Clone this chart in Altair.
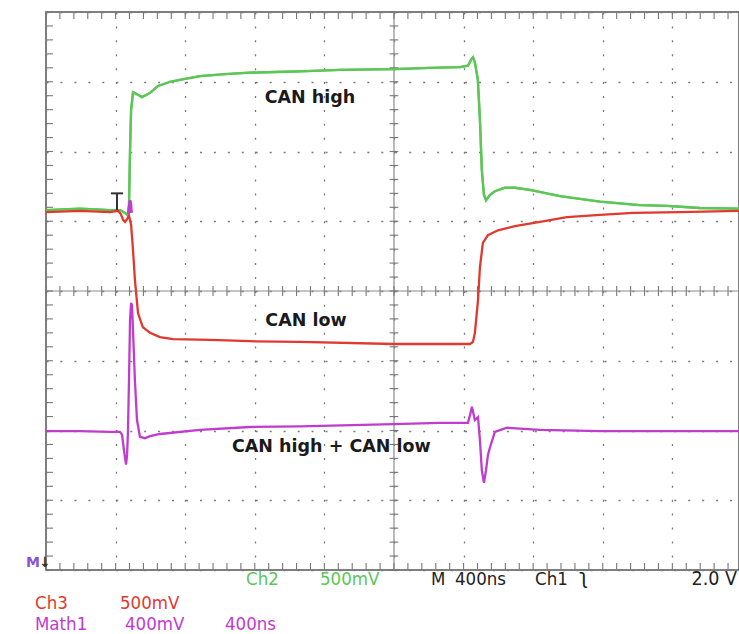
import altair as alt
import pandas as pd
import numpy as np

# Time in ns (400 ns / division), vertical position in screen divisions
can_high_t = [0, 195, 368, 425, 454, 471, 477, 483, 489, 500, 523, 552, 598, 644, 713, 799, 885,
              1029, 1172, 1316, 1460, 1690, 2000, 2207, 2379, 2425, 2442, 2454, 2465, 2482, 2494,
              2505, 2517, 2529, 2552, 2580, 2638, 2695, 2781, 2954, 3184, 3413, 3569, 3759, 3983]
can_high_v = [1.16, 1.18, 1.16, 1.16, 1.12, 1.08, 1.23, 2.02, 2.59, 2.85, 2.82, 2.78, 2.84, 2.94,
              3.00, 3.04, 3.08, 3.11, 3.13, 3.14, 3.15, 3.17, 3.18, 3.20, 3.21, 3.23, 3.31, 3.35,
              3.28, 3.03, 2.45, 1.73, 1.38, 1.30, 1.38, 1.43, 1.48, 1.48, 1.45, 1.36, 1.28, 1.23,
              1.22, 1.19, 1.18]

can_low_t = [0, 195, 368, 414, 431, 443, 454, 466, 477, 489, 500, 511, 529, 557, 598, 655, 730,
             943, 1172, 1460, 2000, 2264, 2437, 2454, 2465, 2483, 2494, 2511, 2540, 2598, 2695,
             2839, 2994, 3184, 3374, 3644, 3983]
can_low_v = [1.13, 1.15, 1.13, 1.15, 1.10, 1.02, 0.99, 1.03, 1.08, 0.95, 0.59, 0.16, -0.32,
             -0.52, -0.60, -0.66, -0.69, -0.70, -0.72, -0.73, -0.76, -0.76, -0.76, -0.73, -0.60,
             -0.13, 0.34, 0.69, 0.80, 0.87, 0.93, 0.99, 1.06, 1.09, 1.12, 1.13, 1.15]

math_t = [0, 195, 368, 425, 437, 448, 460, 466, 471, 477, 483, 489, 494, 500, 511, 523, 540,
          569, 598, 655, 885, 1172, 1460, 2000, 2264, 2425, 2437, 2448, 2465, 2483, 2494, 2505,
          2517, 2529, 2540, 2552, 2580, 2649, 2839, 3184, 3983]
math_v = [-2.01, -2.01, -2.02, -2.02, -2.06, -2.28, -2.49, -2.35, -2.02, -1.28, -0.42, -0.17,
          -0.20, -0.56, -1.28, -1.85, -2.09, -2.11, -2.08, -2.05, -1.99, -1.95, -1.94, -1.91,
          -1.89, -1.89, -1.78, -1.66, -1.85, -1.81, -2.14, -2.57, -2.75, -2.57, -2.35, -2.24,
          -2.02, -1.96, -1.99, -2.01, -2.01]

glitch_t = [474, 479, 483, 487, 491]
glitch_v = [1.10, 1.22, 1.30, 1.24, 1.12]

trace_labels = ["CAN high", "CAN low", "CAN high + CAN low"]
trace_label_t = [1517, 1494, 1640]
trace_label_v = [2.77, -0.43, -2.24]

trigger_t = 408
trigger_level = 1.16

GREEN = "#5cc656"
RED = "#e0392f"
MAGENTA = "#c03ccf"

X_MAX = 3983
grid_t = [0, 400, 800, 1200, 1600, 2000, 2400, 2800, 3200, 3600]
grid_v = [-4, -3, -2, -1, 0, 1, 2, 3, 4]
minor_t = np.arange(0, X_MAX + 1, 80)
minor_v = np.round(np.arange(-4, 4.001, 0.2), 3)

xs = alt.Scale(domain=[0, X_MAX], nice=False, zero=False)
ys = alt.Scale(domain=[-4, 4], nice=False, zero=False)

x_axis = alt.Axis(values=grid_t, grid=True, gridDash=[2, 11.92], gridColor="#7a7a7a",
                  gridOpacity=1, gridWidth=1.3, labels=False, ticks=False, domain=False, title=None)
y_axis = alt.Axis(values=grid_v, grid=True, gridDash=[2, 11.95], gridColor="#7a7a7a",
                  gridOpacity=1, gridWidth=1.3, labels=False, ticks=False, domain=False, title=None)


def trace(t, v, color, width=2.3):
    df = pd.DataFrame({"t": t, "v": v, "i": range(len(t))})
    return alt.Chart(df).mark_line(color=color, strokeWidth=width, clip=True).encode(
        x=alt.X("t:Q", scale=xs, axis=x_axis),
        y=alt.Y("v:Q", scale=ys, axis=y_axis),
        order="i:Q",
    )


# graticule
center_v = alt.Chart(pd.DataFrame({"a": [0]})).mark_rule(color="#8c8c8c", strokeWidth=1.2).encode(
    x=alt.datum(2000, scale=xs))
center_h = alt.Chart(pd.DataFrame({"a": [0]})).mark_rule(color="#8c8c8c", strokeWidth=1.2).encode(
    y=alt.datum(0, scale=ys))

tdf = pd.DataFrame({"t": minor_t})
vdf = pd.DataFrame({"v": minor_v})
tick_style = dict(color="#777777", strokeWidth=1.1)
ticks_center_h = alt.Chart(tdf).mark_rule(**tick_style).encode(
    x=alt.X("t:Q", scale=xs), y=alt.datum(-0.07), y2=alt.datum(0.07))
ticks_center_v = alt.Chart(vdf).mark_rule(**tick_style).encode(
    y=alt.Y("v:Q", scale=ys), x=alt.datum(1975), x2=alt.datum(2025))
ticks_top = alt.Chart(tdf).mark_rule(**tick_style).encode(
    x=alt.X("t:Q", scale=xs), y=alt.datum(4), y2=alt.datum(3.9))
ticks_bottom = alt.Chart(tdf).mark_rule(**tick_style).encode(
    x=alt.X("t:Q", scale=xs), y=alt.datum(-4), y2=alt.datum(-3.9))
ticks_left = alt.Chart(vdf).mark_rule(**tick_style).encode(
    y=alt.Y("v:Q", scale=ys), x=alt.datum(0), x2=alt.datum(40))

# trigger marker "T"
trig_bar = alt.Chart(pd.DataFrame({"a": [0]})).mark_rule(color="#333333", strokeWidth=2).encode(
    x=alt.datum(trigger_t - 35), x2=alt.datum(trigger_t + 35), y=alt.datum(trigger_level + 0.24))
trig_stem = alt.Chart(pd.DataFrame({"a": [0]})).mark_rule(color="#333333", strokeWidth=2).encode(
    x=alt.datum(trigger_t), y=alt.datum(trigger_level + 0.24), y2=alt.datum(trigger_level))

labels_df = pd.DataFrame({"label": trace_labels, "t": trace_label_t, "v": trace_label_v})
labels = alt.Chart(labels_df).mark_text(font="DejaVu Sans", fontWeight="bold", fontSize=17.5,
                                         color="#1a1a1a").encode(
    x=alt.X("t:Q", scale=xs), y=alt.Y("v:Q", scale=ys), text="label:N")

# footer readouts
FOOT_FONT = "DejaVu Sans Condensed, DejaVu Sans"
footer_row1 = ["Ch2", "500mV", "M", "400ns", "Ch1", "ʅ", "2.0 V"]
footer_row2 = ["Ch3", "500mV"]
footer_row3 = ["Math1", "400mV", "400ns"]
OX, OY = 46, 12


def foot(text, px, py, color, align="left", size=18.5, baseline="middle"):
    return alt.Chart(pd.DataFrame({"s": [text]})).mark_text(
        font=FOOT_FONT, fontSize=size, color=color, align=align, baseline=baseline).encode(
        text="s:N", x=alt.value(px - OX), y=alt.value(py - OY))


footers = [
    foot(footer_row1[0], 246, 579, GREEN),
    foot(footer_row1[1], 320, 579, GREEN),
    foot(footer_row1[2], 431, 579, "#222222"),
    foot(footer_row1[3], 455, 579, "#222222"),
    foot(footer_row1[4], 535, 579, "#222222"),
    foot(footer_row1[5], 579, 577, "#222222", size=22),
    foot(footer_row1[6], 737, 579, "#222222", align="right", size=19.5),
    foot(footer_row2[0], 35, 603, RED),
    foot(footer_row2[1], 120, 603, RED),
    foot(footer_row3[0], 35, 624, MAGENTA),
    foot(footer_row3[1], 125, 624, MAGENTA),
    foot(footer_row3[2], 225, 624, MAGENTA),
]

m_marker = alt.Chart(pd.DataFrame({"s": ["M"]})).mark_text(
    font="DejaVu Sans", fontSize=14, fontWeight="bold", color="#8a52d6", align="left",
    baseline="middle").encode(text="s:N", x=alt.value(26 - OX), y=alt.value(563 - OY))
arrow_marker = alt.Chart(pd.DataFrame({"s": ["↓"]})).mark_text(
    font="DejaVu Sans", fontSize=14, fontWeight="bold", color="#333333", align="left",
    baseline="middle").encode(text="s:N", x=alt.value(39 - OX), y=alt.value(563 - OY))

chart = alt.layer(
    trace(can_high_t, can_high_v, GREEN),
    center_v, center_h, ticks_center_h, ticks_center_v, ticks_top, ticks_bottom, ticks_left,
    trace(can_high_t, can_high_v, GREEN),
    trace(can_low_t, can_low_v, RED),
    trace(math_t, math_v, MAGENTA),
    trace(glitch_t, glitch_v, MAGENTA, width=3),
    trig_bar, trig_stem,
    labels,
    *footers,
    m_marker, arrow_marker,
).properties(
    width=739 - OX,
    height=570 - OY,
    autosize=alt.AutoSizeParams(type="none"),
    padding={"left": OX, "top": OY, "right": 0, "bottom": 634 - 570},
    background="white",
).configure_view(stroke="#555555", strokeWidth=1.5)

chart.save("out.html", embed_options={"renderer": "svg", "actions": False})
